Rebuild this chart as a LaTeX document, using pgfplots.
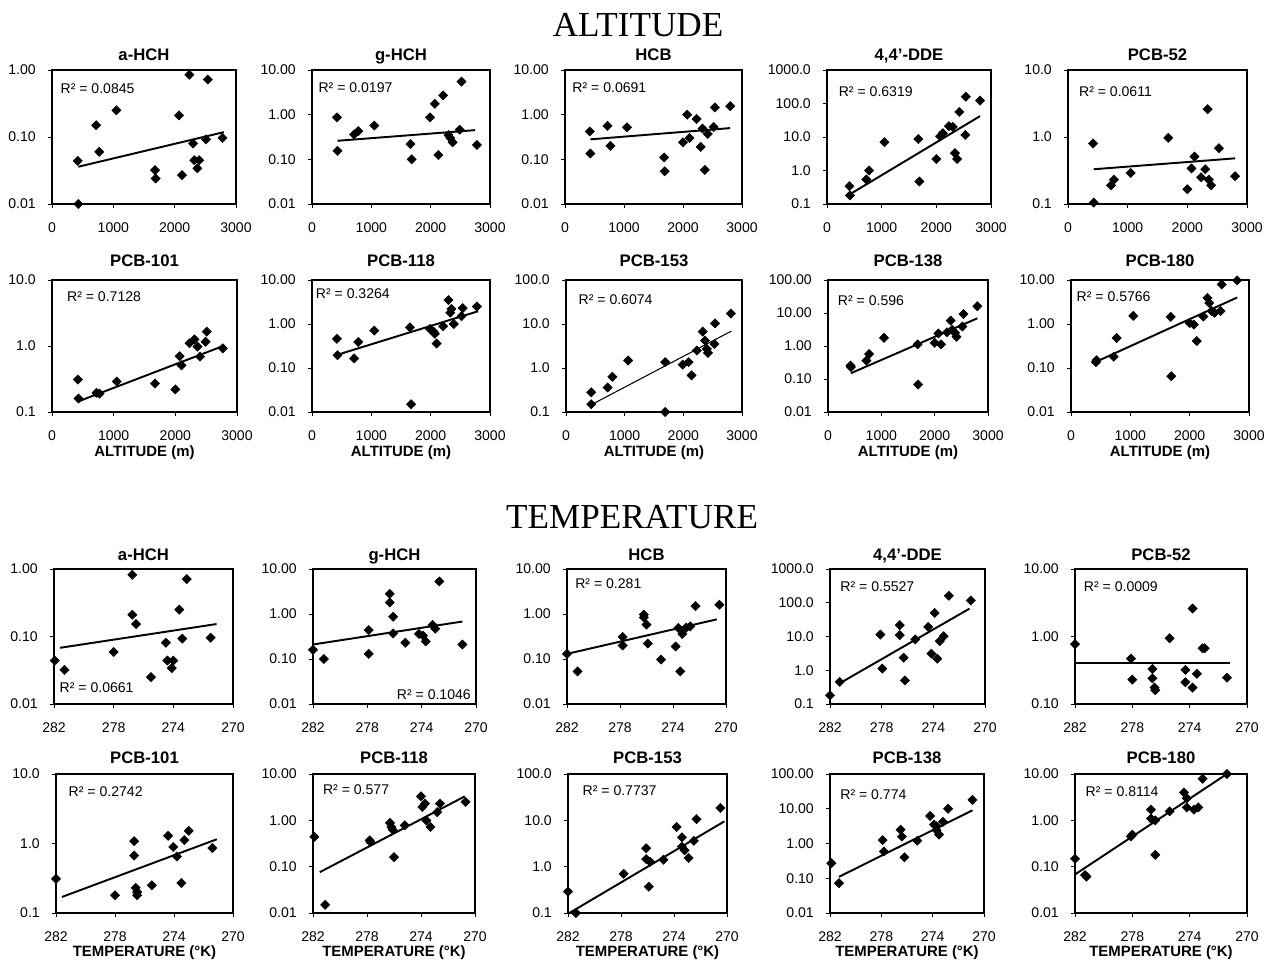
\documentclass[border=0pt]{standalone}
\usepackage{fontspec}
\setmainfont{Liberation Sans}
\newfontfamily\seriffont{Liberation Serif}
\usepackage{pgfplots}
\pgfplotsset{compat=1.18}

\pgfplotsset{
  mypanel/.style={
    scale only axis, anchor=south west,
    axis line style={line width=0.6pt},
    tick align=outside, tick pos=left,
    major tick length=0.08cm,
    tick style={black, line width=0.5pt},
    yminorticks=false, xminorticks=false,
    clip=false,
    tick label style={font=\fontsize{8}{9}\selectfont},
    xticklabel style={anchor=center, yshift=-0.40cm},
    yticklabel style={anchor=east, xshift=-0.12cm},
    title style={font=\bfseries\fontsize{9.5}{11}\selectfont, at={(0.5,1)}, anchor=base, yshift=-0.03cm},
    xlabel style={font=\bfseries\fontsize{8.5}{10}\selectfont, at={(0.5,0)}, anchor=center, yshift=-0.76cm},
  },
  rowB/.style={title style={yshift=0.08cm}, xlabel={ALTITUDE (m)}, xlabel style={yshift=-0.06cm}},
  rowC/.style={title style={yshift=-0.02cm}},
  rowD/.style={title style={yshift=0.02cm}, xlabel={TEMPERATURE (°K)}, xlabel style={yshift=-0.04cm}},
  myalt/.style={xmin=0, xmax=3000, xtick={0,1000,2000,3000}, xticklabels={0,1000,2000,3000}},
  mytemp/.style={xmin=270, xmax=282, x dir=reverse, xtick={270,274,278,282}, xticklabels={270,274,278,282}},
  yTwo/.style={ymin=0.01, ymax=1, ytick={0.01,0.1,1}, yticklabels={0.01,0.10,1.00}},
  yThree/.style={ymin=0.01, ymax=10, ytick={0.01,0.1,1,10}, yticklabels={0.01,0.10,1.00,10.00}},
  yFour/.style={ymin=0.01, ymax=100, ytick={0.01,0.1,1,10,100}, yticklabels={0.01,0.10,1.00,10.00,100.00}},
  dOne/.style={ymin=0.1, ymax=10, ytick={0.1,1,10}, yticklabels={0.1,1.0,10.0}},
  dOneB/.style={ymin=0.1, ymax=10, ytick={0.1,1,10}, yticklabels={0.10,1.00,10.00}},
  dTwo/.style={ymin=0.1, ymax=100, ytick={0.1,1,10,100}, yticklabels={0.1,1.0,10.0,100.0}},
  dThree/.style={ymin=0.1, ymax=1000, ytick={0.1,1,10,100,1000}, yticklabels={0.1,1.0,10.0,100.0,1000.0}},
  mypts/.style={only marks, mark=square*, mark size=1.85pt, mark options={rotate=45, fill=black, draw=black, line width=0.3pt}},
  mytrend/.style={no marks, black, line width=1.1pt},
}
\tikzset{rlab/.style={font=\fontsize{8}{9}\selectfont, inner sep=0pt}}

\begin{document}
\begin{tikzpicture}
\useasboundingbox (0,0) rectangle (25.32,19.2);

% ---------------- ALTITUDE, row 1 ----------------
\begin{axis}[mypanel, ymode=log, myalt, yTwo, at={(1.04cm,15.12cm)}, width=3.68cm, height=2.68cm, title={a-HCH}]
  \addplot[mypts] coordinates {(420,0.044)(430,0.010)(720,0.15)(770,0.060)(1050,0.25)(1680,0.032)(1690,0.024)(2070,0.21)(2120,0.027)(2240,0.85)(2300,0.08)(2320,0.045)(2370,0.034)(2400,0.045)(2510,0.092)(2540,0.72)(2780,0.097)};
  \addplot[mytrend] coordinates {(430,0.036)(2800,0.118)};
  \node[rlab, anchor=west] at (rel axis cs:0.045,0.86) {R² = 0.0845};
\end{axis}

\begin{axis}[mypanel, ymode=log, myalt, yThree, at={(6.24cm,15.12cm)}, width=3.56cm, height=2.68cm, title={g-HCH}]
  \addplot[mypts] coordinates {(420,0.87)(430,0.155)(710,0.36)(780,0.43)(1050,0.57)(1660,0.22)(1680,0.10)(1990,0.87)(2070,1.75)(2130,0.125)(2210,2.7)(2300,0.35)(2330,0.30)(2370,0.24)(2490,0.46)(2520,5.5)(2780,0.21)};
  \addplot[mytrend] coordinates {(430,0.26)(2750,0.45)};
  \node[rlab, anchor=west] at (rel axis cs:0.035,0.87) {R² = 0.0197};
\end{axis}

\begin{axis}[mypanel, ymode=log, myalt, yThree, at={(11.30cm,15.12cm)}, width=3.54cm, height=2.68cm, title={HCB}]
  \addplot[mypts] coordinates {(420,0.42)(430,0.135)(720,0.56)(770,0.20)(1050,0.52)(1680,0.11)(1690,0.054)(2000,0.24)(2070,1.0)(2110,0.30)(2230,0.80)(2300,0.19)(2330,0.49)(2370,0.058)(2420,0.37)(2520,0.53)(2540,1.45)(2800,1.55)};
  \addplot[mytrend] coordinates {(430,0.28)(2800,0.50)};
  \node[rlab, anchor=west] at (rel axis cs:0.04,0.87) {R² = 0.0691};
\end{axis}

\begin{axis}[mypanel, ymode=log, myalt, dThree, at={(16.54cm,15.12cm)}, width=3.28cm, height=2.68cm, title={4,4'-DDE}]
  \addplot[mypts] coordinates {(410,0.34)(420,0.18)(720,0.54)(770,1.0)(1050,7.0)(1670,8.7)(1690,0.47)(2000,2.2)(2070,10.5)(2120,13)(2230,21)(2300,20)(2340,3.3)(2380,2.2)(2420,56)(2530,11.5)(2540,160)(2800,122)};
  \addplot[mytrend] coordinates {(430,0.2)(2800,42)};
  \node[rlab, anchor=west] at (rel axis cs:0.07,0.84) {R² = 0.6319};
\end{axis}

\begin{axis}[mypanel, ymode=log, myalt, dOne, at={(21.36cm,15.12cm)}, width=3.58cm, height=2.68cm, title={PCB-52}]
  \addplot[mypts] coordinates {(420,0.80)(430,0.105)(720,0.19)(770,0.23)(1050,0.29)(1680,0.97)(2000,0.166)(2070,0.34)(2120,0.51)(2230,0.25)(2300,0.33)(2340,2.6)(2360,0.23)(2400,0.19)(2530,0.68)(2800,0.26)};
  \addplot[mytrend] coordinates {(430,0.33)(2800,0.48)};
  \node[rlab, anchor=west] at (rel axis cs:0.06,0.84) {R² = 0.0611};
\end{axis}

% ---------------- ALTITUDE, row 2 ----------------
\begin{axis}[mypanel, rowB, ymode=log, myalt, dOne, at={(1.04cm,10.96cm)}, width=3.70cm, height=2.64cm, title={PCB-101}]
  \addplot[mypts] coordinates {(420,0.31)(430,0.16)(720,0.195)(770,0.19)(1050,0.29)(1670,0.27)(2000,0.22)(2070,0.70)(2100,0.51)(2230,1.1)(2310,1.26)(2360,0.98)(2400,0.69)(2490,1.16)(2510,1.65)(2770,0.92)};
  \addplot[mytrend] coordinates {(430,0.145)(2800,1.02)};
  \node[rlab, anchor=west] at (rel axis cs:0.08,0.87) {R² = 0.7128};
\end{axis}

\begin{axis}[mypanel, rowB, ymode=log, myalt, yThree, at={(6.24cm,10.96cm)}, width=3.56cm, height=2.64cm, title={PCB-118}]
  \addplot[mypts] coordinates {(420,0.46)(430,0.195)(710,0.165)(780,0.39)(1050,0.71)(1650,0.84)(1670,0.015)(1990,0.77)(2050,0.67)(2070,0.6)(2100,0.36)(2210,0.89)(2300,3.5)(2330,1.8)(2350,2.2)(2390,1.0)(2520,1.5)(2540,2.3)(2780,2.5)};
  \addplot[mytrend] coordinates {(430,0.2)(2800,1.95)};
  \node[rlab, anchor=west] at (rel axis cs:0.02,0.9) {R² = 0.3264};
\end{axis}

\begin{axis}[mypanel, rowB, ymode=log, myalt, dTwo, at={(11.32cm,10.96cm)}, width=3.52cm, height=2.64cm, title={PCB-153}]
  \addplot[mypts] coordinates {(430,0.28)(430,0.15)(710,0.36)(790,0.63)(1060,1.48)(1690,1.36)(1690,0.10)(1990,1.19)(2090,1.36)(2140,0.68)(2230,2.5)(2330,6.7)(2370,4.2)(2400,2.7)(2420,2.2)(2530,3.5)(2540,10.3)(2810,17.3)};
  \addplot[mytrend, line width=0.6pt] coordinates {(430,0.146)(2820,6.9)};
  \node[rlab, anchor=west] at (rel axis cs:0.07,0.85) {R² = 0.6074};
\end{axis}

\begin{axis}[mypanel, rowB, ymode=log, myalt, yFour, at={(16.56cm,10.96cm)}, width=3.20cm, height=2.64cm, title={PCB-138}]
  \addplot[mypts] coordinates {(420,0.255)(430,0.23)(720,0.36)(770,0.57)(1050,1.77)(1680,1.12)(1690,0.068)(2000,1.25)(2070,2.4)(2120,1.12)(2230,2.6)(2300,5.9)(2330,3.1)(2380,2.5)(2410,1.9)(2520,3.9)(2540,9.3)(2800,16)};
  \addplot[mytrend] coordinates {(430,0.15)(2800,6.9)};
  \node[rlab, anchor=west] at (rel axis cs:0.06,0.84) {R² = 0.596};
\end{axis}

\begin{axis}[mypanel, rowB, ymode=log, myalt, yThree, at={(21.42cm,10.96cm)}, width=3.56cm, height=2.64cm, title={PCB-180}]
  \addplot[mypts] coordinates {(420,0.136)(430,0.15)(720,0.18)(770,0.48)(1050,1.53)(1680,1.45)(1690,0.065)(2000,1.05)(2070,0.97)(2120,0.41)(2230,1.48)(2300,3.9)(2330,3.0)(2370,1.97)(2420,1.8)(2520,1.97)(2540,7.9)(2800,9.8)};
  \addplot[mytrend] coordinates {(430,0.14)(2800,4.0)};
  \node[rlab, anchor=west] at (rel axis cs:0.03,0.87) {R² = 0.5766};
\end{axis}

% ---------------- TEMPERATURE, row 3 ----------------
\begin{axis}[mypanel, rowC, ymode=log, mytemp, yTwo, at={(1.08cm,5.12cm)}, width=3.58cm, height=2.70cm, title={a-HCH}]
  \addplot[mypts] coordinates {(281.95,0.044)(281.3,0.032)(278.0,0.059)(276.75,0.82)(276.75,0.21)(276.5,0.153)(275.5,0.025)(274.5,0.081)(274.4,0.044)(274.1,0.034)(274.0,0.044)(273.6,0.25)(273.4,0.093)(273.1,0.71)(271.5,0.096)};
  \addplot[mytrend] coordinates {(281.6,0.068)(271.1,0.153)};
  \node[rlab, anchor=west] at (rel axis cs:0.03,0.12) {R² = 0.0661};
\end{axis}

\begin{axis}[mypanel, rowC, ymode=log, mytemp, yThree, at={(6.26cm,5.12cm)}, width=3.26cm, height=2.70cm, title={g-HCH}]
  \addplot[mypts] coordinates {(282.0,0.16)(281.2,0.10)(277.9,0.44)(277.9,0.13)(276.35,2.8)(276.35,1.8)(276.1,0.87)(276.1,0.37)(275.2,0.23)(274.2,0.36)(273.9,0.33)(273.7,0.245)(273.2,0.57)(273.0,0.47)(272.7,5.3)(271.0,0.21)};
  \addplot[mytrend] coordinates {(282,0.21)(271.0,0.68)};
  \node[rlab, anchor=east] at (rel axis cs:0.97,0.07) {R² = 0.1046};
\end{axis}

\begin{axis}[mypanel, rowC, ymode=log, mytemp, yThree, at={(11.34cm,5.12cm)}, width=3.18cm, height=2.70cm, title={HCB}]
  \addplot[mypts] coordinates {(282,0.13)(281.2,0.053)(277.8,0.31)(277.8,0.20)(276.2,0.97)(276.2,0.84)(276.0,0.58)(275.9,0.22)(274.9,0.097)(273.8,0.19)(273.6,0.49)(273.45,0.053)(273.3,0.36)(273.0,0.50)(272.7,0.53)(272.3,1.5)(270.5,1.6)};
  \addplot[mytrend] coordinates {(282,0.13)(270.7,0.76)};
  \node[rlab, anchor=west] at (rel axis cs:0.05,0.89) {R² = 0.281};
\end{axis}

\begin{axis}[mypanel, rowC, ymode=log, mytemp, dThree, at={(16.60cm,5.12cm)}, width=3.10cm, height=2.70cm, title={4,4'-DDE}]
  \addplot[mypts] coordinates {(282,0.18)(281.25,0.45)(278.1,11.4)(277.95,1.12)(276.6,21.6)(276.6,11)(276.3,2.36)(276.2,0.5)(275.4,8.2)(274.4,19.2)(273.9,50)(274.15,3.1)(273.7,2.2)(273.5,7.3)(273.2,10.2)(272.8,161)(271.1,117)};
  \addplot[mytrend] coordinates {(281.3,0.4)(271.2,67)};
  \node[rlab, anchor=west] at (rel axis cs:0.065,0.87) {R² = 0.5527};
\end{axis}

\begin{axis}[mypanel, rowC, ymode=log, mytemp, dOneB, at={(21.50cm,5.12cm)}, width=3.44cm, height=2.70cm, title={PCB-52}]
  \addplot[mypts] coordinates {(282,0.77)(278.1,0.47)(278.0,0.23)(276.6,0.33)(276.6,0.24)(276.45,0.175)(276.4,0.16)(275.4,0.94)(274.3,0.32)(274.3,0.21)(273.8,0.175)(273.8,2.6)(273.5,0.28)(273.1,0.67)(272.95,0.67)(271.4,0.245)};
  \addplot[mytrend] coordinates {(282,0.41)(271.2,0.41)};
  \node[rlab, anchor=west] at (rel axis cs:0.05,0.87) {R² = 0.0009};
\end{axis}

% ---------------- TEMPERATURE, row 4 ----------------
\begin{axis}[mypanel, rowD, ymode=log, mytemp, dOne, at={(1.12cm,0.94cm)}, width=3.54cm, height=2.78cm, title={PCB-101}]
  \addplot[mypts] coordinates {(282,0.31)(278.0,0.18)(276.7,1.08)(276.7,0.67)(276.6,0.23)(276.5,0.18)(276.5,0.20)(275.5,0.25)(274.4,1.29)(274.05,0.89)(273.8,0.65)(273.5,0.27)(273.3,1.12)(273.0,1.52)(271.4,0.86)};
  \addplot[mytrend] coordinates {(281.6,0.17)(271.1,1.15)};
  \node[rlab, anchor=west] at (rel axis cs:0.07,0.87) {R² = 0.2742};
\end{axis}

\begin{axis}[mypanel, rowD, ymode=log, mytemp, yThree, at={(6.26cm,0.94cm)}, width=3.24cm, height=2.78cm, title={PCB-118}]
  \addplot[mypts] coordinates {(281.9,0.44)(281.1,0.015)(277.8,0.37)(277.75,0.34)(276.3,0.88)(276.2,0.72)(276.1,0.63)(276.0,0.16)(275.2,0.78)(274.0,3.3)(273.9,1.94)(273.7,2.3)(273.6,0.99)(273.3,0.72)(272.8,1.5)(272.6,2.3)(270.7,2.5)};
  \addplot[mytrend] coordinates {(281.5,0.076)(270.75,3.3)};
  \node[rlab, anchor=west] at (rel axis cs:0.06,0.89) {R² = 0.577};
\end{axis}

\begin{axis}[mypanel, rowD, ymode=log, mytemp, dTwo, at={(11.36cm,0.94cm)}, width=3.18cm, height=2.78cm, title={PCB-153}]
  \addplot[mypts] coordinates {(282,0.29)(281.4,0.10)(277.8,0.70)(276.1,2.5)(276.1,1.46)(275.9,0.37)(275.8,1.27)(274.8,1.41)(273.8,7.2)(273.4,4.3)(273.4,2.7)(273.2,2.25)(272.9,1.54)(272.5,3.6)(272.3,10.6)(270.5,18.5)};
  \addplot[mytrend] coordinates {(281.9,0.1)(270.2,9.5)};
  \node[rlab, anchor=west] at (rel axis cs:0.09,0.88) {R² = 0.7737};
\end{axis}

\begin{axis}[mypanel, rowD, ymode=log, mytemp, yFour, at={(16.60cm,0.94cm)}, width=3.08cm, height=2.78cm, title={PCB-138}]
  \addplot[mypts] coordinates {(281.9,0.27)(281.3,0.072)(277.9,1.25)(277.8,0.59)(276.5,2.5)(276.4,1.58)(276.2,0.4)(275.2,1.2)(274.2,6.2)(273.9,3.5)(273.7,3.1)(273.7,2.4)(273.5,1.8)(273.2,4.2)(272.8,10)(270.9,18)};
  \addplot[mytrend] coordinates {(281.3,0.11)(270.9,9.0)};
  \node[rlab, anchor=west] at (rel axis cs:0.065,0.85) {R² = 0.774};
\end{axis}

\begin{axis}[mypanel, rowD, ymode=log, mytemp, yThree, at={(21.50cm,0.94cm)}, width=3.44cm, height=2.78cm, title={PCB-180}]
  \addplot[mypts] coordinates {(282,0.148)(281.3,0.066)(281.2,0.061)(278.1,0.45)(278.0,0.49)(276.7,1.7)(276.7,1.09)(276.4,1.0)(276.4,0.18)(275.4,1.56)(274.4,4.0)(274.2,3.0)(274.2,1.9)(273.7,1.7)(273.4,1.9)(273.1,7.9)(271.4,10)};
  \addplot[mytrend] coordinates {(282,0.068)(271.2,11)};
  \node[rlab, anchor=west] at (rel axis cs:0.06,0.87) {R² = 0.8114};
\end{axis}

\node[font=\seriffont\fontsize{20}{24}\selectfont] at (12.76,18.70) {ALTITUDE};
\node[font=\seriffont\fontsize{20}{24}\selectfont] at (12.64,8.86) {TEMPERATURE};
\end{tikzpicture}
\end{document}
